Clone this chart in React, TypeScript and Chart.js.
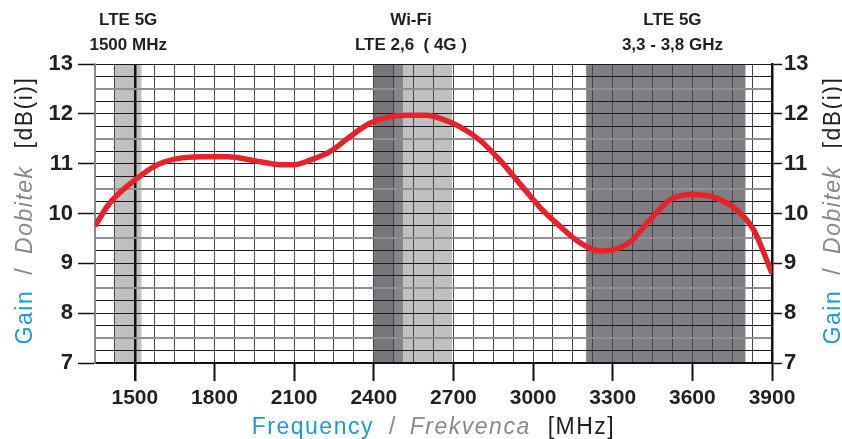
import { useEffect, useRef } from "react";
import { Chart, registerables } from "chart.js";

Chart.register(...registerables);

// ---- data ----
const freqMHz = [1350, 1400, 1450, 1500, 1575, 1650, 1750, 1850, 1950, 2050, 2100, 2160, 2235, 2310, 2385, 2450, 2525, 2600, 2650, 2725, 2800, 2875, 2950, 3025, 3090, 3175, 3250, 3300, 3365, 3440, 3515, 3600, 3690, 3765, 3830, 3900];
const gainDbi = [9.75, 10.17, 10.45, 10.67, 10.95, 11.09, 11.14, 11.14, 11.06, 10.98, 10.98, 11.07, 11.24, 11.54, 11.81, 11.93, 11.97, 11.97, 11.91, 11.74, 11.47, 11.07, 10.6, 10.13, 9.8, 9.42, 9.25, 9.27, 9.43, 9.87, 10.27, 10.38, 10.31, 10.08, 9.68, 8.8];

const xLabelValues = [1500, 1800, 2100, 2400, 2700, 3000, 3300, 3600, 3900];
const yLabelValues = [7, 8, 9, 10, 11, 12, 13];

const bandStart = [1425, 2400, 2475, 2510, 3200];
const bandEnd = [1525, 2475, 2510, 2695, 3800];

const bandTitleFreq = [1475, 2540, 3525];
const bandTitleLine1 = ["LTE 5G", "Wi-Fi", "LTE 5G"];
const bandTitleLine2 = ["1500 MHz", "LTE 2,6  ( 4G )", "3,3 - 3,8 GHz"];

const xTitleParts = ["Frequency", "/", "Frekvenca", "[MHz]"];
const yTitleParts = ["Gain", "/", "Dobitek", "[dB(i)]"];

// ---- styles ----
const bandColors = ["#c0c0c2", "#77777b", "#85858a", "#c0c0c2", "#7f7f83"];
const FONT = "'Liberation Sans', Arial, Helvetica, sans-serif";
const BLUE = "#1e98d6";
const GRAY = "#8a8a8c";
const DARK = "#231f20";

type Part = { text: string; color: string; italic: boolean };

function titleParts(texts: string[]): Part[] {
  return [
    { text: texts[0], color: BLUE, italic: false },
    { text: texts[1], color: GRAY, italic: false },
    { text: texts[2], color: GRAY, italic: true },
    { text: texts[3], color: DARK, italic: false },
  ];
}
const GAPS = [15, 13, 17];

function drawParts(ctx: CanvasRenderingContext2D, parts: Part[], cx: number, baseY: number) {
  const size = 23;
  const fontFor = (p: Part) => `${p.italic ? "italic " : ""}${size}px ${FONT}`;
  (ctx as any).letterSpacing = "1.5px";
  const widths = parts.map((p) => {
    ctx.font = fontFor(p);
    return ctx.measureText(p.text).width;
  });
  const total = widths.reduce((a, b) => a + b, 0) + GAPS.reduce((a, b) => a + b, 0);
  let x = cx - total / 2;
  ctx.textAlign = "left";
  ctx.textBaseline = "alphabetic";
  parts.forEach((p, i) => {
    ctx.font = fontFor(p);
    ctx.fillStyle = p.color;
    ctx.fillText(p.text, x, baseY);
    x += widths[i] + (GAPS[i] || 0);
  });
  (ctx as any).letterSpacing = "0px";
}

const bandsPlugin = {
  id: "bands",
  beforeDraw(chart: any) {
    const { ctx, chartArea, scales } = chart;
    const xs = scales.x;
    ctx.save();
    bandStart.forEach((s, i) => {
      const x1 = xs.getPixelForValue(s);
      const x2 = xs.getPixelForValue(bandEnd[i]);
      ctx.fillStyle = bandColors[i];
      ctx.fillRect(x1, chartArea.top, x2 - x1, chartArea.bottom - chartArea.top);
    });
    ctx.restore();
  },
};

const textPlugin = {
  id: "texts",
  afterDraw(chart: any) {
    const { ctx, chartArea, scales } = chart;
    const xs = scales.x;
    ctx.save();
    // band titles
    ctx.fillStyle = DARK;
    ctx.textAlign = "center";
    ctx.textBaseline = "alphabetic";
    ctx.font = `bold 17px ${FONT}`;
    bandTitleFreq.forEach((f, i) => {
      const x = xs.getPixelForValue(f);
      ctx.fillText(bandTitleLine1[i], x, 25);
      ctx.fillText(bandTitleLine2[i], x, 50);
    });
    // bottom title
    const cx = (chartArea.left + chartArea.right) / 2;
    drawParts(ctx, titleParts(xTitleParts), cx, 434);
    // left / right titles (rotated)
    const cy = (chartArea.top + chartArea.bottom) / 2 - 3;
    [32, 840].forEach((bx) => {
      ctx.save();
      ctx.translate(bx, cy);
      ctx.rotate(-Math.PI / 2);
      drawParts(ctx, titleParts(yTitleParts), 0, 0);
      ctx.restore();
    });
    ctx.restore();
  },
};

export default function App() {
  const ref = useRef<HTMLCanvasElement>(null);
  useEffect(() => {
    const canvas = ref.current!;
    const xTickFont = { family: FONT, size: 21, weight: "bold" as const };
    const yTickFont = { family: FONT, size: 22, weight: "bold" as const };
    const chart = new Chart(canvas, {
      type: "line",
      data: {
        datasets: [
          {
            data: freqMHz.map((f, i) => ({ x: f, y: gainDbi[i] })),
            borderColor: "#e8222a",
            borderWidth: 5.5,
            pointRadius: 0,
            cubicInterpolationMode: "monotone",
            borderCapStyle: "butt",
          },
        ],
      },
      options: {
        animation: false,
        responsive: false,
        devicePixelRatio: 1,
        layout: { padding: { top: 64, left: 0, right: 0, bottom: 0 } },
        plugins: { legend: { display: false }, tooltip: { enabled: false } },
        scales: {
          x: {
            type: "linear",
            min: 1350,
            max: 3900,
            afterFit: (s: any) => {
              s.height = 76;
            },
            ticks: {
              stepSize: 75,
              autoSkip: false,
              maxRotation: 0,
              callback: (v: any) => (xLabelValues.includes(Number(v)) ? String(v) : ""),
              font: xTickFont,
              color: DARK,
              padding: 5,
            },
            grid: {
              color: (c: any) => (c.tick.value === 1500 ? "#111" : c.tick.value === 1350 ? "#8a8a8a" : "#444"),
              lineWidth: (c: any) => (c.tick.value === 1500 ? 2.5 : 1),
              tickLength: 18,
              tickColor: (c: any) => (xLabelValues.includes(c.tick.value) ? "#111" : "rgba(0,0,0,0)"),
              tickWidth: (c: any) => (c.tick.value === 1500 ? 2.5 : 2),
            },
            border: { color: "#111", width: 1.5 },
          },
          y: {
            position: "left",
            min: 7,
            max: 13,
            afterFit: (s: any) => {
              s.width = 95;
            },
            ticks: {
              stepSize: 0.25,
              autoSkip: false,
              callback: (v: any) => (yLabelValues.includes(Number(v)) ? String(v) : ""),
              font: yTickFont,
              color: DARK,
              padding: 5,
            },
            grid: {
              color: (c: any) => (c.tick.value % 1 === 0.5 ? "#909090" : "#1a1a1a"),
              lineWidth: (c: any) => (c.tick.value % 1 === 0.5 ? 2 : 1),
              tickLength: 17,
              tickColor: (c: any) => (yLabelValues.includes(c.tick.value) ? "#111" : "rgba(0,0,0,0)"),
              tickWidth: 1.5,
            },
            border: { color: "#8a8a8a", width: 1.5 },
          },
          y2: {
            position: "right",
            min: 7,
            max: 13,
            afterFit: (s: any) => {
              s.width = 70;
            },
            ticks: {
              stepSize: 1,
              autoSkip: false,
              callback: (v: any) => (yLabelValues.includes(Number(v)) ? String(v) : ""),
              font: yTickFont,
              color: DARK,
              padding: 2,
            },
            grid: {
              drawOnChartArea: false,
              tickLength: 10,
              tickColor: "#111",
              tickWidth: 1.5,
            },
            border: { color: "#111", width: 2.5 },
          },
        },
      } as any,
      plugins: [bandsPlugin, textPlugin],
    });
    return () => chart.destroy();
  }, []);
  return (
    <div style={{ position: "fixed", left: 0, top: 0, width: 842, height: 439, background: "#fff" }}>
      <canvas ref={ref} width={842} height={439} style={{ width: 842, height: 439, display: "block" }} />
    </div>
  );
}
